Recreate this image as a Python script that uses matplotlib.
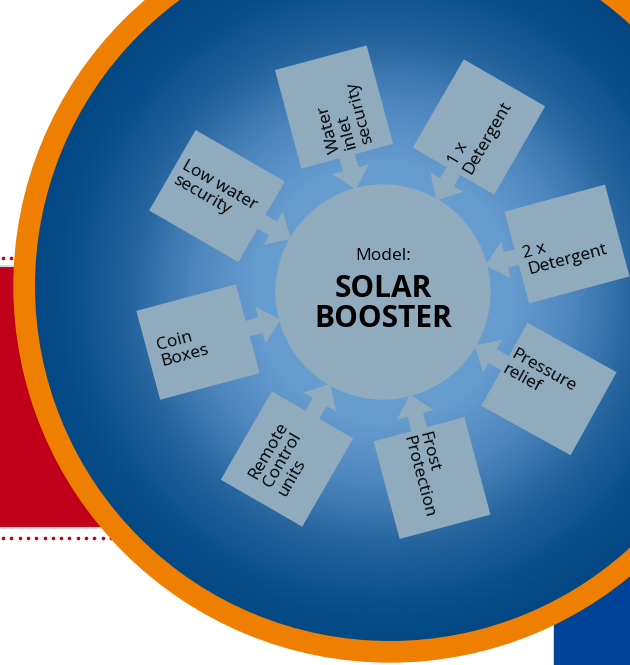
import numpy as np
import matplotlib
matplotlib.use('Agg')
import matplotlib.pyplot as plt
from matplotlib.patches import Circle, Rectangle, Polygon, FancyArrow
from matplotlib.colors import LinearSegmentedColormap

plt.rcParams['font.family'] = ['Open Sans', 'DejaVu Sans']

# feature boxes around the model
labels = ['Water\ninlet\nsecurity', '1 x\nDetergent', '2 x\nDetergent', 'Pressure\nrelief',
          'Frost\nProtection', 'Remote\nControl\nunits', 'Coin\nBoxes', 'Low water\nsecurity']
box_x = [334, 479, 567, 549, 432, 287, 198, 217]
box_y = [107, 127, 244, 389, 478, 459, 342, 196]
box_angle = [105, 60, 15, -29, -75, 60, 15, -30]
box_w = [102, 102, 104, 102, 101, 102, 103, 103]
box_h = [95, 94, 95, 95, 94, 94, 92, 93]
text_x = [344, 480, 565, 539, 426, 283, 183, 215]
text_y = [117, 133, 252, 378, 475, 459, 348, 193]

model_label = 'Model:'
model_name = 'SOLAR\nBOOSTER'

W, H = 630, 665
hub_x, hub_y, hub_r = 383, 292, 107
ring_x, ring_y, ring_r, disk_r = 390, 286, 376, 355

box_col = '#8fabbd'
orange = '#ee7f00'
red = '#c0001a'

fig = plt.figure(figsize=(6.3, 6.65), dpi=100)
ax = fig.add_axes([0, 0, 1, 1])
ax.set_xlim(0, W)
ax.set_ylim(H, 0)
ax.set_aspect('equal')
ax.axis('off')

# background blocks
ax.add_patch(Rectangle((0, 267), 250, 260, color=red, zorder=1))
ax.plot([0, 250], [266, 266], color='#d8d8dc', lw=1.5, zorder=1)
ax.plot([0, 250], [528, 528], color='#d8d8dc', lw=1.5, zorder=1)
dots = np.arange(3, 250, 8.3)
ax.plot(dots, np.full_like(dots, 258), 'o', color=red, ms=1.6, zorder=1)
ax.plot(dots, np.full_like(dots, 538), 'o', color=red, ms=1.6, zorder=1)
ax.add_patch(Rectangle((554, 480), 80, 190, color='#00449a', zorder=1))

# orange ring and blue gradient disk
ax.add_patch(Circle((ring_x, ring_y), ring_r, color=orange, zorder=2))
cmap = LinearSegmentedColormap.from_list('disk', [
    (0.0, (0.43, 0.63, 0.83)), (0.30, (0.40, 0.61, 0.81)), (0.45, (0.30, 0.52, 0.74)),
    (0.60, (0.13, 0.38, 0.61)), (0.75, (0.02, 0.30, 0.54)), (1.0, (0.0, 0.23, 0.46))])
yy, xx = np.mgrid[0:H, 0:W]
dist = np.hypot(xx - hub_x, yy - hub_y) / 430
grad = ax.imshow(dist, cmap=cmap, vmin=0, vmax=1, extent=(0, W, H, 0), zorder=3)
disk = Circle((ring_x, ring_y), disk_r, transform=ax.transData, facecolor='none')
ax.add_patch(disk)
grad.set_clip_path(disk)

# arrows, boxes, labels
for i, lab in enumerate(labels):
    cx, cy = box_x[i], box_y[i]
    vx, vy = hub_x - cx, hub_y - cy
    d = np.hypot(vx, vy)
    L = d - hub_r + 1
    ax.add_patch(FancyArrow(cx, cy, vx / d * L, vy / d * L, width=16, head_width=38,
                            head_length=21, length_includes_head=True,
                            color=box_col, lw=0, zorder=4))
    a = np.radians(box_angle[i])
    u = np.array([np.cos(a), -np.sin(a)]) * box_w[i] / 2
    v = np.array([np.sin(a), np.cos(a)]) * box_h[i] / 2
    c = np.array([cx, cy])
    ax.add_patch(Polygon([c - u - v, c + u - v, c + u + v, c - u + v],
                         closed=True, color=box_col, lw=0, zorder=5))
    ax.text(text_x[i], text_y[i], lab, rotation=box_angle[i], rotation_mode='anchor',
            ha='center', va='center', multialignment='left', fontsize=12.5,
            linespacing=1.08, color='black', zorder=6)

ax.add_patch(Circle((hub_x, hub_y), hub_r, color=box_col, zorder=5))
ax.text(hub_x, 256, model_label, ha='center', va='center', fontsize=12.5, zorder=6)
ax.text(hub_x, 304, model_name, ha='center', va='center', fontsize=21.5,
        fontweight='bold', linespacing=0.98, zorder=6)

fig.savefig('out.png', dpi=100, facecolor='white')
